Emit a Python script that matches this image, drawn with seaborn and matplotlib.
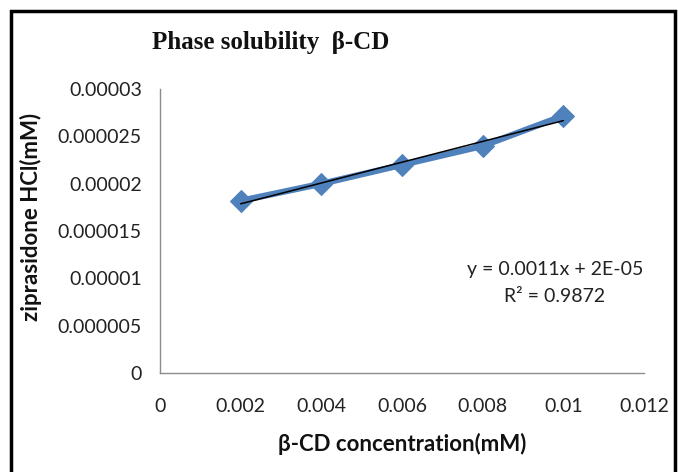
import numpy as np
import pandas as pd
import matplotlib
matplotlib.use("Agg")
import matplotlib.pyplot as plt
import seaborn as sns
from matplotlib.patches import Rectangle

# Data
concentration = [0.002, 0.004, 0.006, 0.008, 0.010]
solubility = [1.82e-5, 2.00e-5, 2.20e-5, 2.40e-5, 2.72e-5]
x_ticks = [0, 0.002, 0.004, 0.006, 0.008, 0.01, 0.012]
x_tick_labels = ["0", "0.002", "0.004", "0.006", "0.008", "0.01", "0.012"]
y_ticks = [0, 0.000005, 0.00001, 0.000015, 0.00002, 0.000025, 0.00003]
y_tick_labels = ["0", "0.000005", "0.00001", "0.000015", "0.00002", "0.000025", "0.00003"]
title = "Phase solubility  β-CD"
x_label = "β-CD concentration(mM)"
y_label = "ziprasidone HCl(mM)"
eq_text = "y = 0.0011x + 2E-05\nR² = 0.9872"

df = pd.DataFrame({"conc": concentration, "sol": solubility})

sns.set_theme(style="white")
plt.rcParams["font.family"] = ["Lato", "DejaVu Sans"]

fig = plt.figure(figsize=(6.78, 4.72), dpi=100)
ax = fig.add_axes([0.236, 0.210, 0.714, 0.601])

sns.lineplot(data=df, x="conc", y="sol", ax=ax, color="#4F81BD", linewidth=4.5,
             marker="D", markersize=11.5, markeredgecolor="#4F81BD", zorder=3)

# linear trendline
coef = np.polyfit(concentration, solubility, 1)
xs = np.array([concentration[0], concentration[-1]])
ax.plot(xs, np.polyval(coef, xs), color="black", linewidth=1.1, zorder=4)

ax.set_xlim(0, 0.012)
ax.set_ylim(0, 0.00003)
ax.set_xticks(x_ticks)
ax.set_xticklabels(x_tick_labels)
ax.set_yticks(y_ticks)
ax.set_yticklabels(y_tick_labels)

for s in ["top", "right"]:
    ax.spines[s].set_visible(False)
for s in ["left", "bottom"]:
    ax.spines[s].set_color("#8c8c8c")
    ax.spines[s].set_linewidth(1)
ax.tick_params(axis="both", which="major", direction="out", length=6, width=1,
               color="#8c8c8c", labelsize=14, labelcolor="#222222", pad=7)
ax.tick_params(axis="x", pad=12)

ax.set_xlabel(x_label, fontsize=16, fontweight="bold", labelpad=13, color="#111111")
ax.set_ylabel(y_label, fontsize=16, fontweight="bold", color="#111111")
ax.yaxis.set_label_coords(-0.244, 0.55)

fig.text(0.224, 0.911, title, fontsize=18, fontweight="bold",
         family=["Liberation Serif", "DejaVu Serif"], ha="left", va="center", color="#111111")

ax.text(0.00979, 0.0000095, eq_text, fontsize=14, ha="center", va="center",
        multialignment="center", linespacing=1.75, color="#222222")

# outer frame (no bottom edge visible)
fig.patches.append(Rectangle((11 / 678, -0.05), (675 - 11) / 678, 1 - 11 / 472 + 0.05,
                             transform=fig.transFigure, fill=False,
                             edgecolor="black", linewidth=2.5))

fig.savefig("out.png", dpi=100)
